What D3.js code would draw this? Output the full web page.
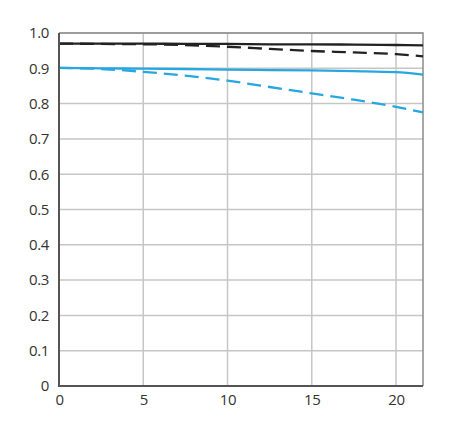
<!DOCTYPE html>
<html>
<head>
<meta charset="utf-8">
<script src="https://cdn.jsdelivr.net/npm/d3@7"></script>
<style>
  body { margin: 0; background: #fff; }
  text { font-family: "Open Sans", "Noto Sans", sans-serif; fill: #333; }
</style>
</head>
<body>
<script>
// image height (mm) positions where MTF was sampled
var xs = [0, 2.5, 5, 7.5, 10, 12.5, 15, 17.5, 20, 21.6];
var blackSolid = [0.970, 0.970, 0.970, 0.969, 0.969, 0.968, 0.968, 0.967, 0.966, 0.965];
var blackDashed = [0.970, 0.969, 0.968, 0.966, 0.961, 0.955, 0.949, 0.945, 0.940, 0.934];
var blueSolid = [0.901, 0.900, 0.899, 0.898, 0.896, 0.895, 0.894, 0.892, 0.889, 0.882];
var blueDashed = [0.901, 0.898, 0.890, 0.879, 0.865, 0.847, 0.829, 0.811, 0.791, 0.775];
var xTicks = [0, 5, 10, 15, 20];
var yTicks = [0, 0.1, 0.2, 0.3, 0.4, 0.5, 0.6, 0.7, 0.8, 0.9, 1.0];

var width = 449, height = 435;
var margin = { top: 33, right: 26, bottom: 49, left: 59 };

var svg = d3.select('body').append('svg')
    .attr('width', width)
    .attr('height', height);

var x = d3.scaleLinear().domain([0, 21.6]).range([margin.left, width - margin.right]);
var y = d3.scaleLinear().domain([0, 1]).range([height - margin.bottom, margin.top]);

// grid
svg.append('g').selectAll('line.v')
    .data(xTicks.slice(1))
    .enter().append('line')
    .attr('x1', function (d) { return x(d); }).attr('x2', function (d) { return x(d); })
    .attr('y1', y(0)).attr('y2', y(1))
    .attr('stroke', '#c6c6c6').attr('stroke-width', 1.5);
svg.append('g').selectAll('line.h')
    .data(yTicks.slice(1))
    .enter().append('line')
    .attr('x1', x(0)).attr('x2', x(21.6))
    .attr('y1', function (d) { return y(d); }).attr('y2', function (d) { return y(d); })
    .attr('stroke', '#c6c6c6').attr('stroke-width', 1.5);

// top/right frame
svg.append('path')
    .attr('d', 'M' + x(0) + ',' + y(1) + 'H' + x(21.6) + 'V' + y(0))
    .attr('fill', 'none').attr('stroke', '#8a8a8a').attr('stroke-width', 1.5);

// curves
var line = d3.line()
    .x(function (d, i) { return x(xs[i]); })
    .y(function (d) { return y(d); })
    .curve(d3.curveMonotoneX);

var series = [
  { v: blackSolid, c: '#222', dash: null },
  { v: blackDashed, c: '#222', dash: '14,7' },
  { v: blueSolid, c: '#27a7e1', dash: null },
  { v: blueDashed, c: '#27a7e1', dash: '14,7' }
];
series.forEach(function (s) {
  svg.append('path')
      .attr('d', line(s.v))
      .attr('fill', 'none')
      .attr('stroke', s.c)
      .attr('stroke-width', 2.3)
      .attr('stroke-dasharray', s.dash);
});

// axes
var xAxis = svg.append('g')
    .attr('transform', 'translate(0,' + y(0) + ')')
    .call(d3.axisBottom(x).tickValues(xTicks).tickSize(0).tickPadding(8));
var yAxis = svg.append('g')
    .attr('transform', 'translate(' + x(0) + ',0)')
    .call(d3.axisLeft(y).tickValues(yTicks).tickSize(0).tickPadding(10)
      .tickFormat(function (d) { return d === 0 ? '0' : d3.format('.1f')(d); }));
[xAxis, yAxis].forEach(function (g) {
  g.selectAll('text').style('font-size', '15px').style('letter-spacing', '-0.4px').attr('fill', '#2e2e2e');
  g.select('.domain').attr('stroke', '#555').attr('stroke-width', 2);
});
xAxis.select('.domain').attr('d', 'M' + (x(0) - 1) + ',0H' + x(21.6));
yAxis.select('.domain').attr('d', 'M0,' + y(1) + 'V' + (y(0) + 1));
</script>
</body>
</html>
